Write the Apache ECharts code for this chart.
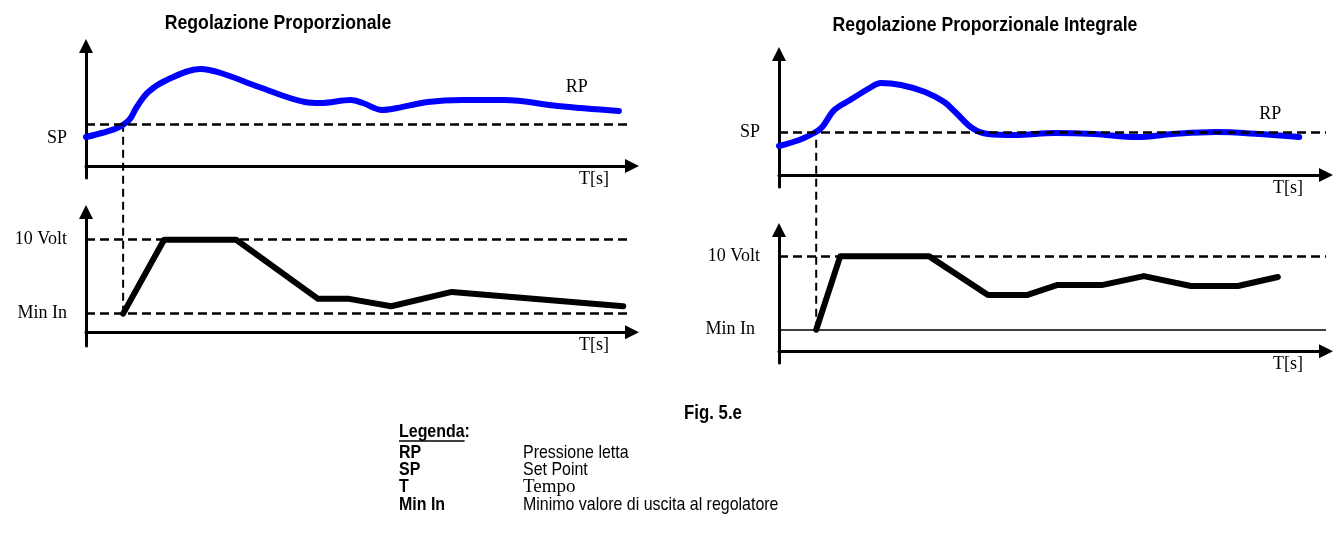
<!DOCTYPE html>
<html><head><meta charset="utf-8">
<script src="https://cdn.jsdelivr.net/npm/echarts@6/dist/echarts.min.js"></script>
<style>html,body{margin:0;padding:0;background:#fff}#c{width:1336px;height:542px}</style>
</head><body><div id="c"></div>
<script>
// ---------- data (arbitrary units, time 0..100) ----------
const leftRpT  = [0, 2.9, 5.7, 7.9, 9.3, 11.4, 14.8, 20.9, 24.7, 31.7, 40.1, 43.0, 48.5, 50.7, 54.2, 57.0, 62.6, 68.9, 76.6, 86.4, 97.6];
const leftRpV  = [7.25, 8.25, 9.5, 11.5, 14.75, 18.5, 21.5, 24.25, 23.25, 19.75, 16, 15.75, 16.5, 15.75, 14, 14.5, 16, 16.5, 16.5, 15, 13.75];
const leftOutT = [6.8, 14.3, 27.5, 42.5, 48.2, 55.9, 67.0, 98.4];
const leftOutV = [2, 10, 10, 3.6, 3.6, 2.8, 4.35, 2.8];

const rightRpT  = [0, 3.7, 6.4, 7.9, 10.1, 13.0, 16.6, 18.6, 22.3, 26.7, 30.2, 32.4, 35.3, 38.2, 43.1, 50.5, 57.6, 65.4, 72.0, 79.9, 87.8, 95.1];
const rightRpV  = [7.25, 8.75, 10.5, 12, 16.25, 18.75, 21.75, 23, 22.5, 20.75, 18.25, 15.5, 11.75, 10.25, 10, 10.5, 10.25, 9.5, 10.25, 10.75, 10.25, 9.5];
const rightOutT = [6.8, 11.2, 27.4, 38.2, 45.3, 50.8, 59.0, 66.7, 75.3, 83.9, 91.2];
const rightOutV = [2.25, 10, 10, 5.9, 5.9, 6.95, 6.95, 7.9, 6.85, 6.85, 7.8];

const setPointL = 10.5, setPointR = 10.75;
const fullScaleV = 10;
const minInL = 2, minInR = 2.25;
const connectorT = [6.8, 6.8];
const connectorLV = [minInL, 22.5];
const connectorRV = [minInR, 23.05];
const rpLabelL = [89.9, 19.75];
const rpLabelR = [89.8, 15.25];

// text
const titles = ['Regolazione Proporzionale', 'Regolazione Proporzionale Integrale'];
const xName = 'T[s]';
const spLabel = 'SP', rpLabel = 'RP';
const outLabels = ['10 Volt', 'Min In'];
const figLabel = 'Fig. 5.e';
const legendTitle = 'Legenda';
const legendKeys = ['RP', 'SP', 'T', 'Min In'];
const legendDesc = ['Pressione letta', 'Set Point', 'Tempo', 'Minimo valore di uscita al regolatore'];
const legendDescSerif = [false, false, true, false];

// ---------- styling ----------
const SERIF = "'Liberation Serif', 'Times New Roman', serif";
const SANS = "'Liberation Sans', Arial, sans-serif";
const NARROW = 0.84;   // horizontal squeeze to mimic a condensed face
const DASH = [9, 5];
const BLUE = '#0000ff';
const zip = (a, b) => a.map((v, i) => [v, b[i]]);

const grids = [
  { left: 86, top: 46, width: 546, height: 132 },
  { left: 86, top: 212, width: 546, height: 134 },
  { left: 779, top: 54, width: 547, height: 133 },
  { left: 779, top: 230, width: 547, height: 133 }
].map(g => Object.assign({ outerBoundsMode: 'none', containLabel: false }, g));
const yRanges = [[-3, 30], [-1.5, 13], [-3, 30.25], [-1.25, 12.75]];

const axisLineStyle = { color: '#000', width: 3 };
const xAxes = grids.map((g, i) => ({
  type: 'value', gridIndex: i, min: 0, max: 100,
  axisLine: { show: true, onZero: true, lineStyle: axisLineStyle, symbol: ['none', 'triangle'], symbolSize: [14, 14] },
  axisTick: { show: false }, axisLabel: { show: false }, splitLine: { show: false },
  name: xName, nameLocation: 'end', nameGap: -23, nameMoveOverlap: false,
  nameTextStyle: { fontFamily: SERIF, fontSize: 18, color: '#000', align: 'right', verticalAlign: 'top', padding: [4, 0, 0, 0] }
}));
const yAxes = grids.map((g, i) => ({
  type: 'value', gridIndex: i, min: yRanges[i][0], max: yRanges[i][1],
  axisLine: { show: true, onZero: true, lineStyle: axisLineStyle, symbol: ['none', 'triangle'], symbolSize: [14, 14] },
  axisTick: { show: false }, axisLabel: { show: false }, splitLine: { show: false }
}));

const lblStyle = { show: true, position: 'start', fontFamily: SERIF, fontSize: 18, color: '#000', distance: 19 };

function refSeries(idx, lines) {
  return {
    type: 'line', xAxisIndex: idx, yAxisIndex: idx, data: [], z: 1,
    markLine: { silent: true, symbol: 'none', animation: false, data: lines }
  };
}
function dashedLine(y, text, extra) {
  return {
    yAxis: y,
    lineStyle: Object.assign({ color: '#000', type: DASH, width: 2.5 }, extra && extra.line),
    label: Object.assign({}, lblStyle, { formatter: text }, extra && extra.label)
  };
}
function connector(idx, vs) {
  return {
    type: 'line', xAxisIndex: idx, yAxisIndex: idx, data: zip(connectorT, vs), clip: false, z: 1,
    symbol: 'none', lineStyle: { color: '#000', type: [8, 5], width: 2 }
  };
}
function rpSeries(idx, t, v, lbl) {
  return {
    type: 'line', xAxisIndex: idx, yAxisIndex: idx, data: zip(t, v), smooth: 0.35, symbol: 'none', z: 3,
    lineStyle: { color: BLUE, width: 6, cap: 'round', join: 'round' },
    markPoint: {
      silent: true, symbol: 'circle', symbolSize: 0, animation: false,
      label: { show: true, position: 'inside', formatter: rpLabel, fontFamily: SERIF, fontSize: 18, color: '#000' },
      data: [{ coord: lbl }]
    }
  };
}
function outSeries(idx, t, v) {
  return {
    type: 'line', xAxisIndex: idx, yAxisIndex: idx, data: zip(t, v), symbol: 'none', z: 3,
    lineStyle: { color: '#000', width: 6, cap: 'round', join: 'round' }
  };
}

const series = [
  refSeries(0, [dashedLine(setPointL, spLabel, { label: { offset: [0, 14] } })]),
  rpSeries(0, leftRpT, leftRpV, rpLabelL),
  refSeries(1, [dashedLine(fullScaleV, outLabels[0]), dashedLine(minInL, outLabels[1])]),
  connector(1, connectorLV),
  outSeries(1, leftOutT, leftOutV),
  refSeries(2, [dashedLine(setPointR, spLabel)]),
  rpSeries(2, rightRpT, rightRpV, rpLabelR),
  refSeries(3, [dashedLine(fullScaleV, outLabels[0]), dashedLine(minInR, outLabels[1], { line: { type: 'solid', width: 1.5 }, label: { distance: 24 } })]),
  connector(3, connectorRV),
  outSeries(3, rightOutT, rightOutV)
];

// ---------- text block ----------
const measure = (() => { const c = document.createElement('canvas').getContext('2d'); return (t, f) => { c.font = f; return c.measureText(t).width; }; })();
const graphic = [];
const txt = (x, y, text, font, align, sx) => graphic.push({
  type: 'text', x, y, silent: true, scaleX: sx == null ? NARROW : sx,
  style: { text, font, fill: '#000', align: align || 'left', verticalAlign: 'middle' }
});
const titleFont = 'bold 21px ' + SANS;
txt(278, 23, titles[0], titleFont, 'center');
txt(985, 25, titles[1], titleFont, 'center');
txt(713, 413, figLabel, 'bold 20px ' + SANS, 'center');
const keyFont = 'bold 19px ' + SANS, descFont = '19px ' + SANS;
txt(399, 432, legendTitle + ':', keyFont);
const ulW = measure(legendTitle, keyFont) * NARROW;
graphic.push({ type: 'line', silent: true, shape: { x1: 399, y1: 441, x2: 399 + ulW, y2: 441 }, style: { stroke: '#000', lineWidth: 1.3 } });
const rowY = [453, 470, 487, 505];
legendKeys.forEach((k, i) => {
  txt(399, rowY[i], k, keyFont);
  if (legendDescSerif[i]) txt(523, rowY[i], legendDesc[i], '19px ' + SERIF, 'left', 1);
  else txt(523, rowY[i], legendDesc[i], descFont);
});

const chart = echarts.init(document.getElementById('c'));
chart.setOption({
  animation: false,
  backgroundColor: '#fff',
  grid: grids, xAxis: xAxes, yAxis: yAxes, series, graphic
});
</script></body></html>
